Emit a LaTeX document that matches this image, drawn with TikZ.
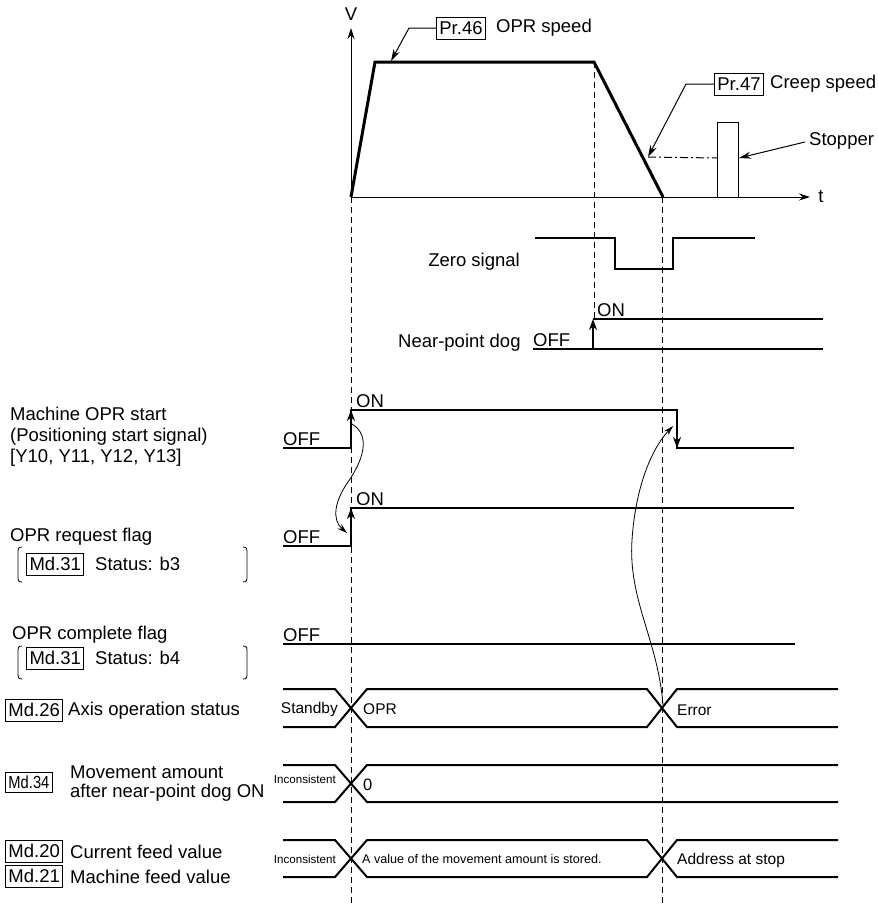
\documentclass[tikz,border=0pt]{standalone}
\usepackage{fontspec}
\setmainfont{Liberation Sans}
\usetikzlibrary{arrows.meta}

\begin{document}
\begin{tikzpicture}[x=1pt, y=-1pt,
    lbl/.style={font=\fontsize{18.5}{21}\selectfont, inner sep=0pt},
    midlbl/.style={font=\fontsize{15.5}{18}\selectfont, inner sep=0pt},
    tinylbl/.style={font=\fontsize{11.6}{14}\selectfont, inner sep=0pt},
    tagbox/.style={draw, line width=1pt, font=\fontsize{18.5}{21}\selectfont,
                   inner xsep=3pt, inner ysep=0pt, minimum height=22pt},
    guide/.style={line width=1pt, dash pattern=on 6pt off 4pt},
    sig/.style={line width=2pt},
    speed/.style={line width=3pt, line join=miter},
    axisline/.style={line width=1pt, -{Stealth[length=11pt,width=7pt]}},
    edgearrow/.style={line width=2pt, -{Stealth[length=11pt,width=8pt]}},
    lead/.style={line width=1pt, -{Stealth[length=12pt,width=7pt]}},
    link/.style={line width=0.8pt, -{Stealth[length=10pt,width=6pt]}},
    bracket/.style={line width=0.8pt}
  ]
  \useasboundingbox (0,0) rectangle (878,906);

  % guides
  \draw[guide] (351,197) -- (351,906);
  \draw[guide] (594,62) -- (594,319);
  \draw[guide] (662,197) -- (662,906);

  % speed graph
  \coordinate (org) at (351,197);
  \draw[axisline] (org) -- (351,28);
  \draw[axisline] (org) -- (810,197);
  \node[lbl] (vlab) at (351,14) {V};
  \node[lbl] (tlab) at (821,197) {t};
  \draw[speed] (org) -- (375,62) -- (594,62) -- (663,197);

  \node[tagbox] (pr46) at (461,28) {Pr.46};
  \node[lbl, anchor=west] (oprspd) at (496,28) {OPR speed};
  \coordinate (hi) at (391,61);
  \draw[lead] (pr46.west) -- (409,28) -- (hi);

  \node[tagbox] (pr47) at (739,84) {Pr.47};
  \node[lbl, anchor=west] (creep) at (770,84) {Creep speed};
  \coordinate (cr) at (648,157);
  \draw[lead] (pr47.west) -- (686,84) -- (cr);

  \draw[line width=1pt] (717,197) -- (717,122) -- (738,122) -- (738,197);
  \coordinate (stp) at (739,158);
  \draw[line width=1pt, dash pattern=on 8pt off 3pt on 2pt off 3pt] (cr) -- (717,158);
  \node[lbl, anchor=west] (stopper) at (809,141) {Stopper};
  \draw[lead, shorten <=4pt] (stopper.west) -- (stp);

  % zero signal and near-point dog
  \node[lbl, anchor=east] (zero) at (520,262) {Zero signal};
  \draw[sig] (535,238) -- (615,238) -- (615,269) -- (673,269) -- (673,238) -- (755,238);

  \node[lbl, anchor=west] (dog) at (398,343) {Near-point dog};
  \node[lbl, anchor=base west] (dogoff) at (533,346) {OFF};
  \node[lbl, anchor=base west] (dogon) at (597,316) {ON};
  \draw[sig] (533,349) -- (823,349);
  \draw[sig] (593,319) -- (823,319);
  \draw[edgearrow] (593,349) -- (593,319);

  % machine OPR start
  \node[lbl, anchor=west, align=left] (mstart) at (10,437)
    {Machine OPR start\\(Positioning start signal)\\{[Y10, Y11, Y12, Y13]}};
  \node[lbl, anchor=base west] (moff) at (283,445) {OFF};
  \node[lbl, anchor=base west] (mon) at (356,407) {ON};
  \draw[sig] (283,448) -- (351,448) -- (351,410) -- (677,410) -- (677,448) -- (794,448);
  \draw[edgearrow] (351,438) -- (351,410);
  \draw[edgearrow] (677,420) -- (677,448);

  % OPR request flag
  \node[lbl, anchor=west] (rflag) at (10,537) {OPR request flag};
  \node[tagbox, anchor=west] (md31a) at (26,564) {Md.31};
  \node[lbl, anchor=west] (b3) at (95,564) {Status: b3};
  \draw[bracket] (22,547) .. controls (18,547) and (18,549) .. (18,553) -- (18,576)
    .. controls (18,580) and (18,582) .. (22,582);
  \draw[bracket] (243,547) .. controls (247,547) and (247,549) .. (247,553) -- (247,576)
    .. controls (247,580) and (247,582) .. (243,582);
  \node[lbl, anchor=base west] (roff) at (283,543) {OFF};
  \node[lbl, anchor=base west] (ron) at (356,505) {ON};
  \draw[sig] (283,546) -- (351,546) -- (351,508) -- (794,508);
  \draw[edgearrow] (351,536) -- (351,508);

  % OPR complete flag
  \node[lbl, anchor=west] (cflag) at (12,635) {OPR complete flag};
  \node[tagbox, anchor=west] (md31b) at (26,658) {Md.31};
  \node[lbl, anchor=west] (b4) at (95,658) {Status: b4};
  \draw[bracket] (22,646) .. controls (18,646) and (18,648) .. (18,652) -- (18,673)
    .. controls (18,677) and (18,679) .. (22,679);
  \draw[bracket] (243,646) .. controls (247,646) and (247,648) .. (247,652) -- (247,673)
    .. controls (247,677) and (247,679) .. (243,679);
  \node[lbl, anchor=base west] (coff) at (283,641) {OFF};
  \draw[sig] (283,644) -- (795,644);

  % axis operation status
  \node[tagbox, anchor=west] (md26) at (5,710) {Md.26};
  \node[lbl, anchor=west] (axst) at (68,711) {Axis operation status};
  \draw[sig] (283,689) -- (335,689) -- (367,727) -- (647,727) -- (677,689) -- (838,689);
  \draw[sig] (283,727) -- (335,727) -- (367,689) -- (647,689) -- (677,727) -- (838,727);
  \node[midlbl, anchor=east] (stby) at (338,709) {Standby};
  \node[midlbl, anchor=west] (opr) at (363,709) {OPR};
  \node[midlbl, anchor=west] (err) at (677,710) {Error};

  % movement amount
  \node[tagbox, anchor=west, font=\fontsize{17.5}{20}\selectfont, minimum height=20pt] (md34) at (5,782)
    {\scalebox{0.84}[1]{Md.34}};
  \node[lbl, anchor=west, align=left, font=\fontsize{18.5}{19}\selectfont] (mvamt) at (70,784)
    {Movement amount\\after near-point dog ON};
  \draw[sig] (283,765) -- (335,765) -- (367,802) -- (838,802);
  \draw[sig] (283,802) -- (335,802) -- (367,765) -- (838,765);
  \node[tinylbl, anchor=east] (inc1) at (336,779) {Inconsistent};
  \node[font=\fontsize{16.5}{18}\selectfont, inner sep=0pt, anchor=west] (zerov) at (363,785) {0};

  % feed values
  \node[tagbox, anchor=west] (md20) at (5,851) {Md.20};
  \node[lbl, anchor=west] (curfv) at (70,852) {Current feed value};
  \node[tagbox, anchor=west] (md21) at (5,876) {Md.21};
  \node[lbl, anchor=west] (macfv) at (70,877) {Machine feed value};
  \draw[sig] (283,840) -- (335,840) -- (367,877) -- (647,877) -- (677,840) -- (838,840);
  \draw[sig] (283,877) -- (335,877) -- (367,840) -- (647,840) -- (677,877) -- (838,877);
  \node[tinylbl, anchor=east] (inc2) at (336,859) {Inconsistent};
  \node[font=\fontsize{12.6}{15}\selectfont, inner sep=0pt, anchor=west] (stored) at (362,859)
    {A value of the movement amount is stored.};
  \node[midlbl, anchor=west] (addr) at (677,860) {Address at stop};

  % cause links
  \draw[link] (352,424) .. controls (372,436) and (362,462) .. (348,482)
    .. controls (334,502) and (332,520) .. (347,533);
  \draw[link] (663,705) .. controls (658,640) and (628,600) .. (632,540)
    .. controls (636,480) and (655,445) .. (673,426);
\end{tikzpicture}
\end{document}
